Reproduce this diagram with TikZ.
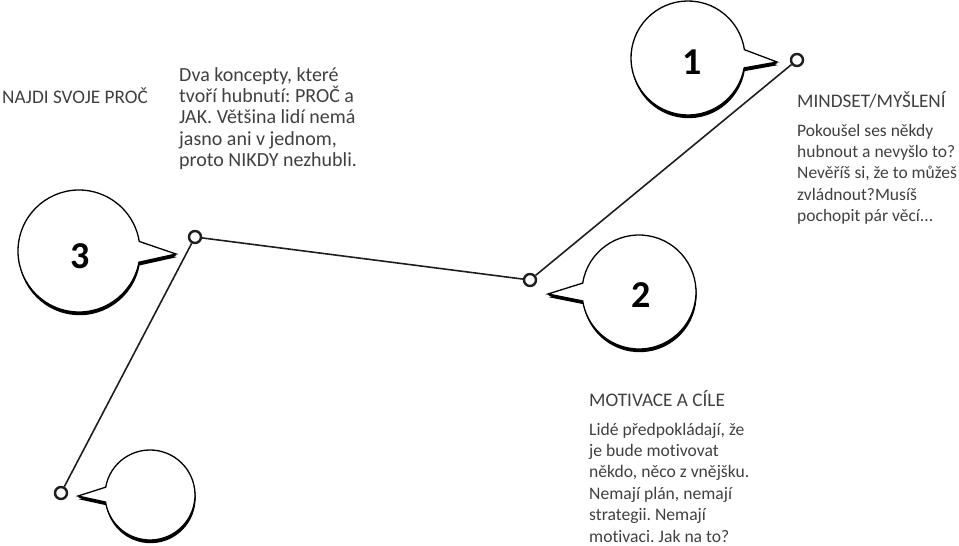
\documentclass[tikz,border=0pt]{standalone}
\usepackage{fontspec}
\setmainfont{Carlito}[Ligatures=NoCommon]
\frenchspacing
\definecolor{txtgray}{RGB}{64,64,64}
\definecolor{linecol}{RGB}{30,30,30}
\newcommand{\txtblock}[2]{\parbox[t]{240pt}{\raggedright\frenchspacing\fontsize{#1}{21.4}\selectfont #2}}
\newcommand{\speechbubble}[5]{%
  \fill[black,transform canvas={xshift=0.6pt,yshift=-3.2pt}] (#1) ++(#3:#2) arc[start angle=#3,end angle=#4,radius=#2] -- (#5) -- cycle;
  \fill[black,transform canvas={xshift=0.3pt,yshift=-1.6pt}] (#1) ++(#3:#2) arc[start angle=#3,end angle=#4,radius=#2] -- (#5) -- cycle;
  \draw[bubbleline] (#1) ++(#3:#2) arc[start angle=#3,end angle=#4,radius=#2] -- (#5) -- cycle;}
\tikzset{
  bubbleline/.style={draw=black,fill=white,line width=1.3pt,line join=miter},
  numlabel/.style={font=\fontsize{38}{40}\selectfont\bfseries,text=black,inner sep=0pt},
  dotnode/.style={circle,draw=linecol,fill=white,line width=2.4pt,minimum size=12pt,inner sep=0pt},
  connector/.style={draw=linecol,line width=1.6pt},
  txtnode/.style={text=txtgray,inner sep=0pt,anchor=base west}
}
\begin{document}
\begin{tikzpicture}[x=1pt,y=-1pt]
\useasboundingbox (0,0) rectangle (959,546);
% bubble centres and tips
\coordinate (c1) at (688,58);
\coordinate (p1) at (777,62);
\coordinate (c2) at (639,292);
\coordinate (p2) at (548,294);
\coordinate (c3) at (79,251);
\coordinate (p3) at (176,254);
\coordinate (c4) at (150,495);
\coordinate (p4) at (78,496);
% bubbles
\speechbubble{c1}{57}{10}{351.6}{p1}
\speechbubble{c2}{57}{189}{531}{p2}
\speechbubble{c3}{61}{10.6}{351}{p3}
\speechbubble{c4}{45}{190}{531}{p4}
\node[numlabel] (n1) at (692,62) {1};
\node[numlabel] (n2) at (641,295) {2};
\node[numlabel] (n3) at (80,256) {3};
% dots and connectors
\node[dotnode] (A) at (797,60) {};
\node[dotnode] (B) at (530,280) {};
\node[dotnode] (C) at (195,237) {};
\node[dotnode] (D) at (61,493) {};
\draw[connector] (A) -- (B);
\draw[connector] (B) -- (C);
\draw[connector] (C) -- (D);
% texts
\node[txtnode] (t0) at (2,103) {\fontsize{19.2}{21.4}\selectfont NAJDI SVOJE PROČ};
\node[txtnode] (t1) at (179,81) {\txtblock{20}{Dva koncepty, které\\tvoří hubnutí: PROČ a\\JAK. Většina lidí nemá\\jasno ani v jednom,\\proto NIKDY nezhubli.}};
\node[txtnode] (t2) at (797,107) {\fontsize{19.2}{21.4}\selectfont MINDSET/MYŠLENÍ};
\node[txtnode] (t3) at (797,136) {\txtblock{17.5}{Pokoušel ses někdy\\hubnout a nevyšlo to?\\Nevěříš si, že to můžeš\\zvládnout?Musíš\\pochopit pár věcí...}};
\node[txtnode] (t4) at (589,406) {\fontsize{19.2}{21.4}\selectfont MOTIVACE A CÍLE};
\node[txtnode] (t5) at (589,435) {\txtblock{17.6}{Lidé předpokládají, že\\je bude motivovat\\někdo, něco z vnějšku.\\Nemají plán, nemají\\strategii. Nemají\\motivaci. Jak na to?}};
\end{tikzpicture}
\end{document}
